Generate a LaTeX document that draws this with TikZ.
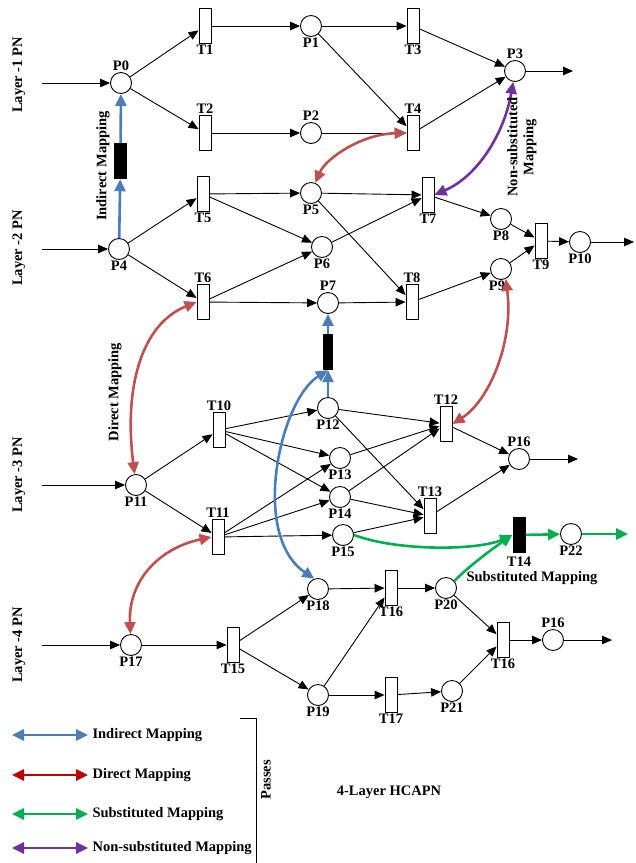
\documentclass[tikz,border=0pt]{standalone}
\usepackage{fontspec}
\setmainfont{Liberation Serif}
\usetikzlibrary{arrows.meta}
\definecolor{mapblue}{HTML}{4A7EBB}
\definecolor{mapred}{HTML}{C0504D}
\definecolor{legred}{HTML}{C00000}
\definecolor{mapgreen}{HTML}{00B050}
\definecolor{mappurple}{HTML}{7030A0}
\newcommand\netfont{\fontsize{14.5}{16}\selectfont\bfseries}
\begin{document}
\begin{tikzpicture}[x=1pt, y=-1pt,
  every node/.style={font=\netfont},
  every label/.style={inner sep=1pt},
  place/.style={circle, draw, line width=0.9pt, minimum size=21pt, inner sep=0pt, fill=white, label distance=2pt},
  trans/.style={rectangle, draw, line width=0.9pt, minimum width=12pt, minimum height=35pt, inner sep=0pt, fill=white, label distance=4pt},
  bar/.style={rectangle, fill=black, minimum width=12pt, minimum height=36pt, inner sep=0pt},
  arc/.style={line width=0.9pt, -{Triangle[length=10pt,width=8.5pt]}},
  map/.style={line width=2.6pt, -{Triangle[length=12pt,width=11pt]}},
  mapboth/.style={line width=2.6pt, {Triangle[length=12pt,width=11pt]}-{Triangle[length=12pt,width=11pt]}},
  layer/.style={rotate=90}
]
\useasboundingbox (0,0) rectangle (636,863);

% ---------------- Layer 1 ----------------
\node[layer] (L1) at (19,75) {Layer -1 PN};
\node[place, label=above:P0] (P0) at (121,83) {};
\node[trans, label=below:T1] (T1) at (205,26) {};
\node[trans, label=above:T2] (T2) at (205,133) {};
\node[place, label=below:P1] (P1) at (311,26) {};
\node[place, label=above:P2] (P2) at (311,133) {};
\node[trans, label=below:T3] (T3) at (413,26) {};
\node[trans, label=above:T4] (T4) at (413,133) {};
\node[place, label=above:P3] (P3) at (515,71) {};
\coordinate (in1) at (42,83);
\coordinate (out1) at (573,71);
\draw[arc] (in1) -- (P0);
\draw[arc] (P0) -- (T1);
\draw[arc] (P0) -- (T2);
\draw[arc] (T1) -- (P1);
\draw[arc] (T2) -- (P2);
\draw[arc] (P1) -- (T3);
\draw[arc] (P1) -- (T4);
\draw[arc] (P2) -- (T4);
\draw[arc] (T3) -- (P3);
\draw[arc] (T4) -- (P3);
\draw[arc] (P3) -- (out1);

% ---------------- Layer 2 ----------------
\node[layer] (L2) at (19,248) {Layer -2 PN};
\node[place, label=below:P4] (P4) at (119,249) {};
\node[trans, label=below:T5] (T5) at (203,194) {};
\node[trans, label=above:T6] (T6) at (203,302) {};
\node[place, label=below:P5] (P5) at (311,193) {};
\node[place, label=below:P6] (P6) at (322,247) {};
\node[place, label=above:P7] (P7) at (328,303) {};
\node[trans, label=below:T7] (T7) at (428,195) {};
\node[trans, label=above:T8] (T8) at (412,302) {};
\node[place, label=below:P8] (P8) at (501,219) {};
\node[place, label={[xshift=-4pt]below:P9}] (P9) at (501,269) {};
\node[trans, label=below:T9] (T9) at (541,241) {};
\node[place, label=below:P10] (P10) at (580,242) {};
\coordinate (in2) at (42,249);
\coordinate (out2) at (634,242);
\draw[arc] (in2) -- (P4);
\draw[arc] (P4) -- (T5);
\draw[arc] (P4) -- (T6);
\draw[arc] (T5) -- (P5);
\draw[arc] (T5) -- (P6);
\draw[arc] (T6) -- (P6);
\draw[arc] (T6) -- (P7);
\draw[arc] (P5) -- (T7);
\draw[arc] (P6) -- (T7);
\draw[arc] (P5) -- (T8);
\draw[arc] (P7) -- (T8);
\draw[arc] (T7) -- (P8);
\draw[arc] (T8) -- (P9);
\draw[arc] (P8) -- (T9);
\draw[arc] (P9) -- (T9);
\draw[arc] (T9) -- (P10);
\draw[arc] (P10) -- (out2);

% ---------------- Layer 3 ----------------
\node[layer] (L3) at (19,475) {Layer -3 PN};
\node[place, label=below:P11] (P11) at (136,485) {};
\node[trans, label=above:T10] (T10) at (219,430) {};
\node[trans, label=above:T11] (T11) at (218,537) {};
\node[place, label=below:P12] (P12) at (328,408) {};
\node[place, label=below:P13] (P13) at (340,458) {};
\node[place, label=below:P14] (P14) at (340,497) {};
\node[place, label=below:P15] (P15) at (343,535) {};
\node[trans, label=above:T12] (T12) at (446,424) {};
\node[trans, label=above:T13] (T13) at (430,516) {};
\node[place, label=above:P16] (P16) at (519,459) {};
\node[bar, minimum width=13pt, label={[label distance=3pt]below:T14}] (T14) at (519,535) {};
\node[place, label=below:P22] (P22) at (571,534) {};
\coordinate (in3) at (42,485);
\coordinate (out3) at (578,459);
\coordinate (out3g) at (628,534);
\draw[arc] (in3) -- (P11);
\draw[arc] (P11) -- (T10);
\draw[arc] (P11) -- (T11);
\draw[arc] (T10) -- (P12);
\draw[arc] (T10) -- (P13);
\draw[arc] (T10) -- (P14);
\draw[arc] (T11) -- (P13);
\draw[arc] (T11) -- (P14);
\draw[arc] (T11) -- (P15);
\draw[arc] (P12) -- (T12);
\draw[arc] (P12) -- (T13);
\draw[arc] (P13) -- (T12);
\draw[arc] (P14) -- (T12);
\draw[arc] (P14) -- (T13);
\draw[arc] (P15) -- (T13);
\draw[arc] (T12) -- (P16);
\draw[arc] (T13) -- (P16);
\draw[arc] (P16) -- (out3);

% ---------------- Layer 4 ----------------
\node[layer] (L4) at (19,645) {Layer -4 PN};
\node[place, label=below:P17] (P17) at (131,645) {};
\node[trans, label=below:T15] (T15) at (233,645) {};
\node[place, label=below:P18] (P18) at (318,589) {};
\node[place, label=below:P19] (P19) at (318,695) {};
\node[trans, label=below:T16] (T16) at (391,588) {};
\node[trans, label=below:T17] (T17) at (391,695) {};
\node[place, label=below:P20] (P20) at (446,588) {};
\node[place, label=below:P21] (P21) at (452,691) {};
\node[trans, label=below:T16] (T16b) at (503,640) {};
\node[place, label=above:P16] (P16b) at (553,640) {};
\coordinate (in4) at (42,645);
\coordinate (out4) at (612,640);
\draw[arc] (in4) -- (P17);
\draw[arc] (P17) -- (T15);
\draw[arc] (T15) -- (P18);
\draw[arc] (T15) -- (P19);
\draw[arc] (P18) -- (T16);
\draw[arc] (P19) -- (T16);
\draw[arc] (T16) -- (P20);
\draw[arc] (P19) -- (T17);
\draw[arc] (T17) -- (P21);
\draw[arc] (P20) -- (T16b);
\draw[arc] (P21) -- (T16b);
\draw[arc] (T16b) -- (P16b);
\draw[arc] (P16b) -- (out4);

% ---------------- Mappings between layers ----------------
% indirect mapping (blue) through black bars
\node[bar, minimum width=12.5pt] (B1) at (120.5,161) {};
\node[bar, minimum width=10.5pt] (B2) at (328,352) {};
\draw[map, mapblue] (P4) -- (B1);
\draw[map, mapblue] (B1) -- (P0);
\draw[map, mapblue] (P12) -- (B2);
\draw[map, mapblue] (B2) -- (P7);
\draw[mapboth, mapblue] (P18.110) .. controls (250,535) and (280,400) .. (B2.south);
\node[layer] (IM) at (103,166) {Indirect Mapping};

% direct mapping (red)
\draw[mapboth, mapred] (P5) .. controls (326,158) and (362,134) .. (T4.west);
\draw[mapboth, mapred] (P11) .. controls (124,390) and (140,325) .. (T6.west);
\draw[mapboth, mapred] (P17) .. controls (128,580) and (160,548) .. (T11.west);
\draw[mapboth, mapred] (P9.-65) .. controls (514,340) and (490,400) .. (T12.east);
\node[layer] (DM) at (115,392) {Direct Mapping};

% non-substituted mapping (purple)
\draw[mapboth, mappurple] (P3) .. controls (505,130) and (480,175) .. (T7.east);
\node[layer, align=center] (NSM) at (522,147) {Non-substituted\\Mapping};

% substituted mapping (green)
\draw[map, mapgreen] (P15.east) .. controls (400,552) and (480,550) .. (T14.west);
\draw[map, mapgreen] (P20.40) .. controls (470,565) and (495,547) .. (T14.west);
\draw[map, mapgreen] (T14) -- (P22);
\draw[map, mapgreen] (P22) -- (out3g);
\node (SM) at (532,578) {Substituted Mapping};

% ---------------- Legend ----------------
\coordinate (la1) at (12,735); \coordinate (lb1) at (88,735);
\coordinate (la2) at (12,775); \coordinate (lb2) at (88,775);
\coordinate (la3) at (12,814); \coordinate (lb3) at (88,814);
\coordinate (la4) at (12,848); \coordinate (lb4) at (88,848);
\draw[mapboth, mapblue] (la1) -- (lb1);
\draw[mapboth, legred] (la2) -- (lb2);
\draw[mapboth, mapgreen] (la3) -- (lb3);
\draw[mapboth, mappurple] (la4) -- (lb4);
\node[anchor=west] (lt1) at (89,735) {Indirect Mapping};
\node[anchor=west] (lt2) at (89,775) {Direct Mapping};
\node[anchor=west] (lt3) at (89,814) {Substituted Mapping};
\node[anchor=west] (lt4) at (89,848) {Non-substituted Mapping};
\coordinate (br1) at (240,718);
\coordinate (br2) at (256,718);
\coordinate (br3) at (256,863);
\draw[line width=0.9pt] (br1) -- (br2) -- (br3);
\node[layer] (PS) at (266,780) {Passes};
\node (HC) at (389,792) {4-Layer HCAPN};
\end{tikzpicture}
\end{document}
